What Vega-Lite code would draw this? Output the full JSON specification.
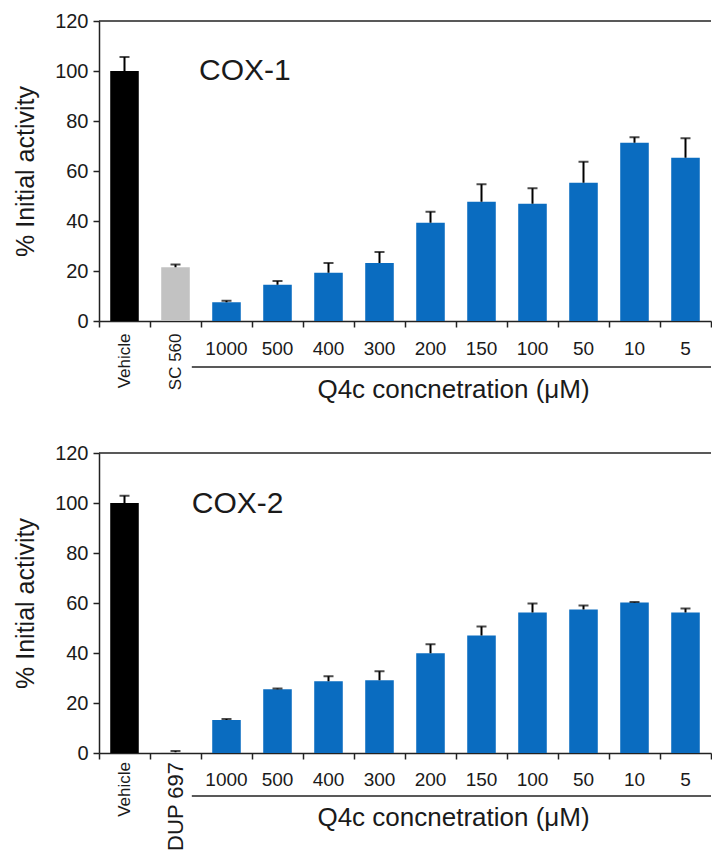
{
  "$schema": "https://vega.github.io/schema/vega-lite/v6.json",
  "autosize": {"type": "pad"},
  "padding": {"left": 13, "top": 11, "right": 0, "bottom": 0},
  "background": "white",
  "bounds": "flush",
  "spacing": 132,
  "config": {
    "font": "Liberation Sans",
    "view": {"stroke": null},
    "text": {"font": "Liberation Sans", "color": "#1a1a1a"},
    "axis": {"grid": false, "domainColor": "#222", "tickColor": "#222", "domainWidth": 1.5, "tickWidth": 1.5, "labelColor": "#1a1a1a", "titleColor": "#1a1a1a", "titleFontWeight": "normal", "labelFont": "Liberation Sans", "titleFont": "Liberation Sans"}
  },
  "datasets": {
    "cox1": [
      {"cat": "Vehicle", "group": "vehicle", "value": 100, "err": 105.6},
      {"cat": "SC 560", "group": "control", "value": 21.5, "err": 22.6},
      {"cat": "1000", "group": "q4c", "value": 7.5, "err": 8.1},
      {"cat": "500", "group": "q4c", "value": 14.5, "err": 16.0},
      {"cat": "400", "group": "q4c", "value": 19.3, "err": 23.2},
      {"cat": "300", "group": "q4c", "value": 23.2, "err": 27.6},
      {"cat": "200", "group": "q4c", "value": 39.3, "err": 43.7},
      {"cat": "150", "group": "q4c", "value": 47.7, "err": 54.7},
      {"cat": "100", "group": "q4c", "value": 46.9, "err": 53.1},
      {"cat": "50", "group": "q4c", "value": 55.3, "err": 63.7},
      {"cat": "10", "group": "q4c", "value": 71.3, "err": 73.5},
      {"cat": "5", "group": "q4c", "value": 65.3, "err": 73.1}
    ],
    "cox2": [
      {"cat": "Vehicle", "group": "vehicle", "value": 100, "err": 102.9},
      {"cat": "DUP 697", "group": "control", "value": 0.3, "err": 0.8},
      {"cat": "1000", "group": "q4c", "value": 13.2, "err": 13.6},
      {"cat": "500", "group": "q4c", "value": 25.5, "err": 25.8},
      {"cat": "400", "group": "q4c", "value": 28.7, "err": 30.7},
      {"cat": "300", "group": "q4c", "value": 29.1, "err": 32.7},
      {"cat": "200", "group": "q4c", "value": 39.9, "err": 43.5},
      {"cat": "150", "group": "q4c", "value": 47.0, "err": 50.6},
      {"cat": "100", "group": "q4c", "value": 56.2, "err": 59.8},
      {"cat": "50", "group": "q4c", "value": 57.4, "err": 59.0},
      {"cat": "10", "group": "q4c", "value": 60.2, "err": 60.4},
      {"cat": "5", "group": "q4c", "value": 56.2, "err": 57.8}
    ]
  },
  "vconcat": [
    {
      "width": 612,
      "height": 300,
      "layer": [
        {
          "data": {"name": "cox1"},
          "mark": {"type": "bar", "width": {"band": 0.56}},
          "encoding": {
            "x": {
              "field": "cat", "type": "nominal",
              "scale": {"domain": ["Vehicle", "SC 560", "1000", "500", "400", "300", "200", "150", "100", "50", "10", "5"], "paddingInner": 0, "paddingOuter": 0},
              "axis": {
                "title": "Q4c concnetration (μM)", "titleFontSize": 26, "titleX": 354, "titleY": 68, "titleBaseline": "middle", "titleAlign": "center", "titleAnchor": null,
                "tickBand": "extent", "tickSize": 6, "labels": false
              }
            },
            "y": {
              "field": "value", "type": "quantitative",
              "scale": {"domain": [0, 120], "nice": false},
              "axis": {"title": "% Initial activity", "values": [0, 20, 40, 60, 80, 100, 120], "tickSize": 6, "labelPadding": 5, "labelFontSize": 20, "titleFontSize": 25, "titlePadding": 16}
            },
            "color": {"field": "group", "type": "nominal", "scale": {"domain": ["vehicle", "control", "q4c"], "range": ["#000000", "#c2c2c2", "#0a6cc0"]}, "legend": null}
          }
        },
        {
          "data": {"name": "cox1"},
          "mark": {"type": "rule", "color": "#000", "strokeWidth": 2},
          "encoding": {"x": {"field": "cat", "type": "nominal"}, "y": {"field": "value", "type": "quantitative"}, "y2": {"field": "err"}}
        },
        {
          "data": {"name": "cox1"},
          "mark": {"type": "tick", "color": "#000", "thickness": 2, "size": 10},
          "encoding": {"x": {"field": "cat", "type": "nominal"}, "y": {"field": "err", "type": "quantitative"}}
        },
        {
          "data": {"name": "cox1"},
          "transform": [{"filter": "datum.group != 'q4c'"}],
          "mark": {"type": "text", "angle": 270, "align": "right", "baseline": "middle", "fontSize": 17},
          "encoding": {"x": {"field": "cat", "type": "nominal"}, "y": {"datum": -5}, "text": {"field": "cat"}}
        },
        {
          "data": {"name": "cox1"},
          "transform": [{"filter": "datum.group == 'q4c'"}],
          "mark": {"type": "text", "align": "center", "baseline": "top", "fontSize": 19},
          "encoding": {"x": {"field": "cat", "type": "nominal"}, "y": {"datum": -7.6}, "text": {"field": "cat"}}
        },
        {
          "data": {"values": [{"v": 120}]},
          "mark": {"type": "rule", "color": "#222", "strokeWidth": 1.5},
          "encoding": {"y": {"field": "v", "type": "quantitative"}}
        },
        {
          "data": {"values": [{"a": "1000", "b": "5", "v": -18.4}]},
          "mark": {"type": "rule", "color": "#222", "strokeWidth": 1.5, "clip": false},
          "encoding": {"x": {"field": "a", "type": "nominal", "bandPosition": -0.18}, "x2": {"field": "b", "bandPosition": 1}, "y": {"field": "v", "type": "quantitative"}}
        },
        {
          "data": {"values": [{"a": "1000", "v": 100, "t": "COX-1"}]},
          "mark": {"type": "text", "align": "left", "baseline": "middle", "fontSize": 30},
          "encoding": {"x": {"field": "a", "type": "nominal", "bandPosition": -0.04}, "y": {"field": "v", "type": "quantitative"}, "text": {"field": "t"}}
        }
      ]
    },
    {
      "width": 612,
      "height": 300,
      "layer": [
        {
          "data": {"name": "cox2"},
          "mark": {"type": "bar", "width": {"band": 0.56}},
          "encoding": {
            "x": {
              "field": "cat", "type": "nominal",
              "scale": {"domain": ["Vehicle", "DUP 697", "1000", "500", "400", "300", "200", "150", "100", "50", "10", "5"], "paddingInner": 0, "paddingOuter": 0},
              "axis": {
                "title": "Q4c concnetration (μM)", "titleFontSize": 26, "titleX": 354, "titleY": 64, "titleBaseline": "middle", "titleAlign": "center", "titleAnchor": null,
                "tickBand": "extent", "tickSize": 6, "labels": false
              }
            },
            "y": {
              "field": "value", "type": "quantitative",
              "scale": {"domain": [0, 120], "nice": false},
              "axis": {"title": "% Initial activity", "values": [0, 20, 40, 60, 80, 100, 120], "tickSize": 6, "labelPadding": 5, "labelFontSize": 20, "titleFontSize": 25, "titlePadding": 16}
            },
            "color": {"field": "group", "type": "nominal", "scale": {"domain": ["vehicle", "control", "q4c"], "range": ["#000000", "#c2c2c2", "#0a6cc0"]}, "legend": null}
          }
        },
        {
          "data": {"name": "cox2"},
          "mark": {"type": "rule", "color": "#000", "strokeWidth": 2},
          "encoding": {"x": {"field": "cat", "type": "nominal"}, "y": {"field": "value", "type": "quantitative"}, "y2": {"field": "err"}}
        },
        {
          "data": {"name": "cox2"},
          "mark": {"type": "tick", "color": "#000", "thickness": 2, "size": 10},
          "encoding": {"x": {"field": "cat", "type": "nominal"}, "y": {"field": "err", "type": "quantitative"}}
        },
        {
          "data": {"name": "cox2"},
          "transform": [{"filter": "datum.group != 'q4c'"}],
          "mark": {"type": "text", "angle": 270, "align": "right", "baseline": "middle"},
          "encoding": {
            "x": {"field": "cat", "type": "nominal"},
            "y": {"datum": -3.6},
            "text": {"field": "cat"},
            "size": {"condition": {"test": "datum.cat == 'DUP 697'", "value": 22}, "value": 17}
          }
        },
        {
          "data": {"name": "cox2"},
          "transform": [{"filter": "datum.group == 'q4c'"}],
          "mark": {"type": "text", "align": "center", "baseline": "top", "fontSize": 19},
          "encoding": {"x": {"field": "cat", "type": "nominal"}, "y": {"datum": -7.2}, "text": {"field": "cat"}}
        },
        {
          "data": {"values": [{"v": 120}]},
          "mark": {"type": "rule", "color": "#222", "strokeWidth": 1.5},
          "encoding": {"y": {"field": "v", "type": "quantitative"}}
        },
        {
          "data": {"values": [{"a": "1000", "b": "5", "v": -17.2}]},
          "mark": {"type": "rule", "color": "#222", "strokeWidth": 1.5, "clip": false},
          "encoding": {"x": {"field": "a", "type": "nominal", "bandPosition": -0.18}, "x2": {"field": "b", "bandPosition": 1}, "y": {"field": "v", "type": "quantitative"}}
        },
        {
          "data": {"values": [{"a": "1000", "v": 99.5, "t": "COX-2"}]},
          "mark": {"type": "text", "align": "left", "baseline": "middle", "fontSize": 30},
          "encoding": {"x": {"field": "a", "type": "nominal", "bandPosition": -0.18}, "y": {"field": "v", "type": "quantitative"}, "text": {"field": "t"}}
        }
      ]
    }
  ]
}
